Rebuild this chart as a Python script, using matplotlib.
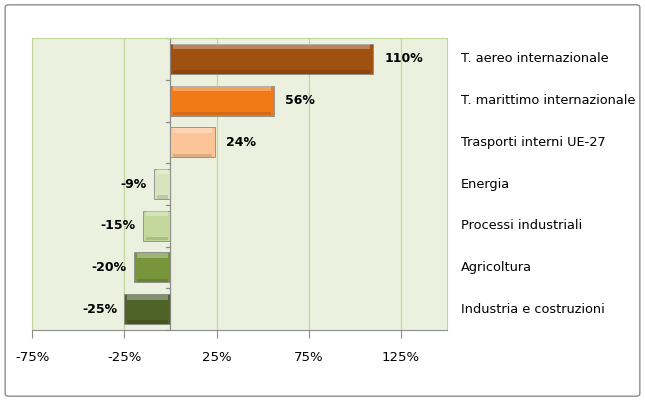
import matplotlib.pyplot as plt
from matplotlib.patches import FancyBboxPatch
from matplotlib.ticker import FixedLocator, FuncFormatter

# dati
categorie = ['T. aereo internazionale', 'T. marittimo internazionale', 'Trasporti interni UE-27',
             'Energia', 'Processi industriali', 'Agricoltura', 'Industria e costruzioni']
valori = [110, 56, 24, -9, -15, -20, -25]
colori = ['#A0500F', '#F27A16', '#FBC597', '#D8E4BE', '#C4D79C', '#78953B', '#4F6228']
tick_x = [-75, -25, 25, 75, 125]

plt.rcParams['font.family'] = ['DejaVu Sans']

fig = plt.figure(figsize=(6.45, 4.01), dpi=100)
# bordo esterno del grafico
bordo = FancyBboxPatch((0.008, 0.012), 0.984, 0.976, boxstyle='round,pad=0,rounding_size=0.006',
                       transform=fig.transFigure, fc='none', ec='#8C8C8C', lw=1.0)
fig.add_artist(bordo)

ax = fig.add_axes([0.050, 0.177, 0.643, 0.728])
ax.set_facecolor('#EBF1DE')
ax.set_xlim(-75, 150)
n = len(categorie)
ax.set_ylim(n - 0.5, -0.5)
y = list(range(n))

h = 0.72
ax.barh(y, valori, height=h, color=colori, edgecolor='#8A8A8A', linewidth=0.6, zorder=3)

# effetto rilievo: luce in alto, ombra in basso
m = 1.6
for yi, v in zip(y, valori):
    s = 1 if v > 0 else -1
    ax.barh(yi - h / 2 + 0.07, v - 2 * s * m, left=s * m, height=0.12, color='white', alpha=0.3,
            linewidth=0, zorder=4)
    ax.barh(yi + h / 2 - 0.05, v - 2 * s * m, left=s * m, height=0.08, color='black', alpha=0.12,
            linewidth=0, zorder=4)

for yi, v in zip(y, valori):
    if v > 0:
        ax.text(v + 6, yi, f'{v}%', va='center', ha='left', fontsize=9, fontweight='bold', zorder=5)
    else:
        ax.text(v - 4, yi, f'{v}%', va='center', ha='right', fontsize=9, fontweight='bold', zorder=5)
    ax.text(157.5, yi, categorie[yi], va='center', ha='left', fontsize=9.3, clip_on=False)

ax.xaxis.set_major_locator(FixedLocator(tick_x))
ax.xaxis.set_major_formatter(FuncFormatter(lambda v, p: f'{v:.0f}%'))
ax.tick_params(axis='x', length=6, color='#8C8C8C', labelsize=9.5, pad=9)
ax.grid(axis='x', color='#C3D69B', linewidth=0.9, zorder=1)
ax.set_axisbelow(True)
ax.set_yticks([])

for s in ['top', 'right', 'left']:
    ax.spines[s].set_color('#C3D69B')
ax.spines['bottom'].set_color('#8C8C8C')

# asse verticale sullo zero con le tacche tra le categorie
ax.axvline(0, color='#8C8C8C', lw=0.9, zorder=2)
for k in range(n + 1):
    ax.plot([-2.2, 0], [k - 0.5, k - 0.5], color='#8C8C8C', lw=0.9, zorder=2, clip_on=False)

fig.savefig('out.png', dpi=100)
